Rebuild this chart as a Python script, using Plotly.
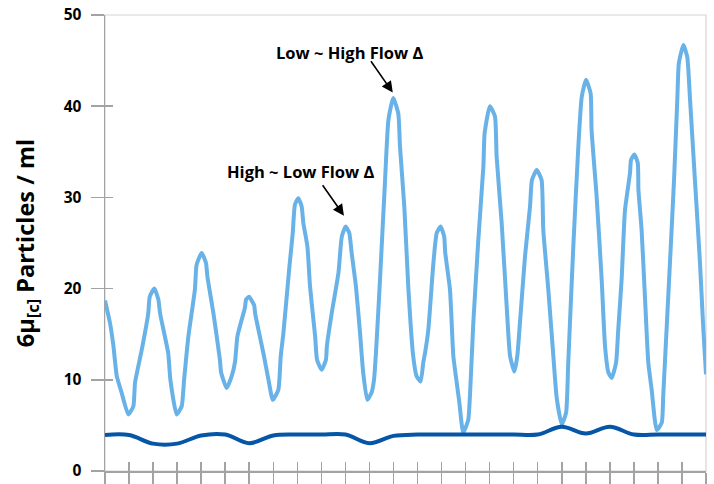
import plotly.graph_objects as go

# Light blue series (x in tick-interval units, value in particles/ml)
light_x = [0.00, 0.21, 0.35, 0.49, 0.69, 0.97, 1.18, 1.25, 1.53, 1.80, 1.86, 2.05, 2.22, 2.29, 2.63, 2.72, 2.98,
           3.19, 3.29, 3.47, 3.74, 3.81, 4.02, 4.20, 4.26, 4.51, 4.78, 4.83, 5.06, 5.27, 5.41, 5.51, 5.82, 5.87,
           5.99, 6.20, 6.25, 6.59, 6.80, 6.98, 7.21, 7.31, 7.42, 7.67, 7.81, 7.90, 8.04, 8.18, 8.25, 8.42, 8.53,
           8.74, 8.82, 9.01, 9.19, 9.23, 9.43, 9.71, 9.85, 10.01, 10.16, 10.26, 10.44, 10.61, 10.74, 10.91,
           11.09, 11.19, 11.27, 11.44, 11.65, 11.79, 11.99, 12.20, 12.27, 12.45, 12.62, 12.82, 12.96, 13.13,
           13.24, 13.31, 13.45, 13.66, 13.80, 13.96, 14.11, 14.15, 14.35, 14.49, 14.63, 14.74, 14.90, 15.11,
           15.18, 15.32, 15.53, 15.74, 15.79, 16.01, 16.22, 16.29, 16.50, 16.71, 16.85, 17.03, 17.15, 17.26,
           17.47, 17.68, 17.76, 17.96, 18.16, 18.23, 18.44, 18.65, 18.79, 19.00, 19.18, 19.27, 19.48, 19.69,
           19.83, 20.01, 20.20, 20.24, 20.45, 20.66, 20.80, 20.94, 21.08, 21.26, 21.35, 21.49, 21.63, 21.84,
           21.88, 22.02, 22.16, 22.19, 22.32, 22.46, 22.60, 22.74, 22.95, 23.16, 23.22, 23.36, 23.50, 23.67,
           23.81, 23.87, 24.06, 24.22, 24.33, 24.54, 24.75, 24.89, 25.00]
light_y = [18.7, 16.2, 13.7, 10.4, 8.6, 6.2, 7.1, 9.7, 13.3, 17.3, 19.1, 20.0, 18.8, 17.3, 12.9, 10.0, 6.2,
           7.1, 10.0, 14.8, 19.9, 22.6, 23.9, 22.8, 21.3, 17.3, 12.2, 10.8, 9.1, 10.4, 12.0, 14.8, 17.9, 18.8,
           19.1, 18.2, 17.2, 12.9, 10.0, 7.8, 8.9, 12.6, 15.1, 22.4, 26.1, 29.2, 29.9, 29.0, 27.2, 24.6, 20.2,
           14.8, 12.2, 11.1, 12.2, 13.7, 17.3, 21.7, 25.7, 26.8, 26.1, 23.9, 20.2, 15.1, 10.8, 7.8,
           8.6, 10.0, 12.9, 21.0, 31.9, 38.5, 40.9, 39.2, 35.6, 29.0, 20.0, 12.6, 10.4, 9.8,
           11.9, 12.9, 15.5, 22.8, 26.1, 26.8, 25.7, 24.0, 19.9, 12.6, 9.7, 7.5, 4.2, 5.6,
           8.2, 16.2, 25.4, 33.4, 37.0, 40.0, 38.9, 34.5, 27.2, 18.0, 12.6, 10.9, 12.6, 16.2,
           23.5, 29.0, 31.9, 33.0, 31.9, 26.5, 19.9, 12.6, 8.0, 5.1, 6.4, 11.9, 24.6, 35.6,
           41.0, 42.9, 41.4, 37.4, 30.1, 21.0, 13.7, 10.8, 10.2, 11.9, 15.5, 21.0, 28.6, 32.7,
           34.1, 34.7, 33.8, 30.8, 26.5, 19.1, 11.9, 8.9, 4.5, 5.3, 8.2, 15.5, 22.8, 31.9,
           41.0, 44.7, 46.7, 45.4, 41.0, 31.9, 22.8, 15.5, 10.6]

# Dark blue series, one value per tick
dark_x = list(range(26))
dark_y = [3.95, 3.95, 3.0, 3.0, 3.9, 4.0, 3.05, 3.9, 4.0, 4.0, 4.0, 3.05, 3.85, 4.0, 4.0, 4.0, 4.0, 4.0, 4.0,
          4.85, 4.1, 4.85, 4.0, 4.0, 4.0, 4.0]

y_ticks = [0, 10, 20, 30, 40, 50]
x_ticks = list(range(26))

ann_texts = ["Low ~ High Flow Δ", "High ~ Low Flow Δ"]
ann_heads = [(11.97, 41.5), (9.94, 28.0)]
ann_tails = [(11.02, 45.1), (9.01, 31.5)]
ann_text_pos = [(10.19, 45.9), (8.15, 32.8)]

AX = "#a3a3a3"
FONT = "Open Sans"

fig = go.Figure()
fig.add_trace(go.Scatter(x=light_x, y=light_y, mode="lines",
                         line=dict(color="#68b2e8", width=4, shape="spline", smoothing=0.5, simplify=False),
                         cliponaxis=False, hoverinfo="skip", showlegend=False))
# dark series lives on the overlay axes (same ranges) which also draw the inner tick halves
fig.add_trace(go.Scatter(x=dark_x, y=dark_y, mode="lines", xaxis="x2", yaxis="y2",
                         line=dict(color="#0556a6", width=4, shape="spline", smoothing=1.0),
                         hoverinfo="skip", showlegend=False))

annotations = []
for t, (tx, ty) in zip(ann_texts, ann_text_pos):
    annotations.append(dict(x=tx, y=ty, xref="x", yref="y", text="<b>" + t + "</b>", showarrow=False,
                            font=dict(family=FONT, size=16.5, color="black")))
for (hx, hy), (tx, ty) in zip(ann_heads, ann_tails):
    annotations.append(dict(x=hx, y=hy, ax=tx, ay=ty, xref="x", yref="y", axref="x", ayref="y",
                            text="", showarrow=True, arrowhead=2, arrowsize=1.4, arrowwidth=1.6,
                            arrowcolor="black"))

fig.update_layout(
    width=714, height=484,
    margin=dict(l=105, r=8, t=15, b=12.5),
    paper_bgcolor="white", plot_bgcolor="white",
    showlegend=False,
    annotations=annotations,
    shapes=[dict(type="rect", xref="paper", yref="paper", x0=0, x1=1, y0=0, y1=1,
                 line=dict(color="#d4d4d4", width=1.2), layer="below")],
    xaxis=dict(range=[0, 25], tickvals=x_ticks, ticks="outside", ticklen=12, tickwidth=1.5,
               tickcolor=AX, showticklabels=False, showline=True, linecolor=AX, linewidth=1.5,
               showgrid=False, zeroline=False, automargin=False),
    xaxis2=dict(range=[0, 25], tickvals=x_ticks, ticks="inside", ticklen=9, tickwidth=1.5,
                tickcolor=AX, showticklabels=False, showline=False, showgrid=False, zeroline=False,
                overlaying="x", anchor="y", side="bottom", automargin=False),
    yaxis=dict(range=[0, 50], tickvals=y_ticks, ticks="outside", ticklen=13, tickwidth=1.5,
               tickcolor=AX, showline=True, linecolor=AX, linewidth=1.5, showgrid=False,
               zeroline=False, ticklabelstandoff=6, automargin=False, ticklabeloverflow="allow",
               tickfont=dict(family=FONT, size=15.5, color="black", weight="bold"),
               title=dict(text="<b>6μ<sub>[c]</sub> Particles / ml</b>",
                          font=dict(family=FONT, size=23.5, color="black"), standoff=22)),
    yaxis2=dict(range=[0, 50], tickvals=y_ticks, ticks="inside", ticklen=8, tickwidth=1.5,
                tickcolor=AX, showticklabels=False, showline=False, showgrid=False, zeroline=False,
                overlaying="y", anchor="x", side="left", automargin=False),
)

# remove the page's default body margin so the 714x484 figure fills the window exactly
fig.write_html("out.html", config={"displayModeBar": False, "staticPlot": True},
               post_script="document.body.style.margin='0';")
